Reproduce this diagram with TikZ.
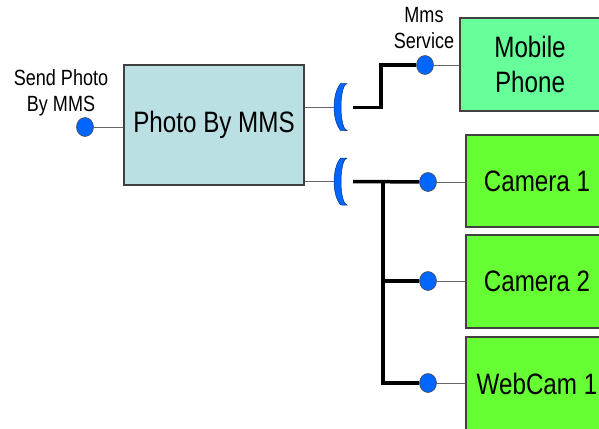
\documentclass[tikz,border=0pt]{standalone}
\usepackage{fontspec}
\setmainfont{Liberation Sans}
\newfontfamily\diagfont[FakeStretch=0.82]{Liberation Sans}
\usetikzlibrary{shapes.geometric,backgrounds}
\definecolor{boxblue}{HTML}{BBE0E3}
\definecolor{phonegreen}{HTML}{66FF99}
\definecolor{camgreen}{HTML}{66FF33}
\definecolor{portblue}{HTML}{0066FF}
\begin{document}
\begin{tikzpicture}[x=1pt,y=-1pt,
  comp/.style={rectangle, draw=black!75, line width=1.2pt, inner sep=0pt,
               font=\diagfont\fontsize{29.5}{35}\selectfont, align=center},
  port/.style={ellipse, draw=black!70, fill=portblue, line width=0.6pt,
               minimum width=17pt, minimum height=19pt, inner sep=0pt},
  wire/.style={draw=black!60, line width=1pt},
  bus/.style={draw=black, line width=3.5pt},
  lbl/.style={font=\diagfont\fontsize{22}{26}\selectfont, align=center, inner sep=0pt},
  socket/.style={fill=portblue, draw=black!50!portblue, line width=0.5pt}]
\useasboundingbox (0,0) rectangle (599,428);
\clip (0,0) rectangle (599,428);

% components
\node[comp, fill=boxblue, minimum width=180pt, minimum height=120pt] (mms) at (214,125) {Photo By MMS};
\node[comp, fill=phonegreen, minimum width=140pt, minimum height=93pt] (phone) at (530,64.5) {Mobile\\Phone};
\node[comp, fill=camgreen, minimum width=142pt, minimum height=92pt] (cam1) at (537,181) {Camera 1};
\node[comp, fill=camgreen, minimum width=142pt, minimum height=93pt] (cam2) at (537,281.5) {Camera 2};
\node[comp, fill=camgreen, minimum width=142pt, minimum height=93pt] (web) at (537,383.5) {WebCam 1};

% provided interfaces (lollipops)
\node[port] (send) at (85,127) {};
\node[port] (mmsport) at (425,65) {};
\node[port] (cam1port) at (428,182) {};
\node[port] (cam2port) at (428,281) {};
\node[port] (webport) at (428,383) {};

% interface labels
\node[lbl] (sendlbl) at (61,93) {Send Photo\\By MMS};
\node[lbl] (svclbl) at (424,28) {Mms\\Service};

% required interfaces (sockets): blunt-ended crescents opening to the right
\coordinate (sa) at (347,107);
\coordinate (saIn) at (335,107.5);
\coordinate (saOut) at (353,107.5);
\coordinate (sb) at (347,181.5);
\coordinate (sbIn) at (335,181.5);
\coordinate (sbOut) at (353,181.5);
\foreach \s in {sa,sb}{
  \path[socket] ([xshift=-6.4pt,yshift=23.5pt]\s)
     arc[start angle=119.5, end angle=240.5, x radius=13pt, y radius=27pt]
     -- ([yshift=-23.5pt]\s)
     arc[start angle=270, end angle=90, x radius=6pt, y radius=23.5pt] -- cycle;
}

\begin{pgfonlayer}{background}
  % thin connections
  \draw[wire] (send) -- (send -| mms.west);
  \draw[wire] (mms.east |- saIn) -- (saIn);
  \draw[wire] (mms.east |- sbIn) -- (sbIn);
  \draw[wire] (mmsport) -- (mmsport -| phone.west);
  \draw[wire] (cam1port) -- (cam1port -| cam1.west);
  \draw[wire] (cam2port) -- (cam2port -| cam2.west);
  \draw[wire] (webport) -- (webport -| web.west);
  % assembly connectors
  \draw[bus] (saOut) -- ++(28,0) coordinate (bendA) |- (mmsport);
  \draw[bus] (sbOut) -- (cam1port);
  \draw[bus] (sbOut) ++(30,0) coordinate (tee) |- (webport);
  \draw[bus] (tee |- cam2port) -- (cam2port);
\end{pgfonlayer}
\end{tikzpicture}
\end{document}
